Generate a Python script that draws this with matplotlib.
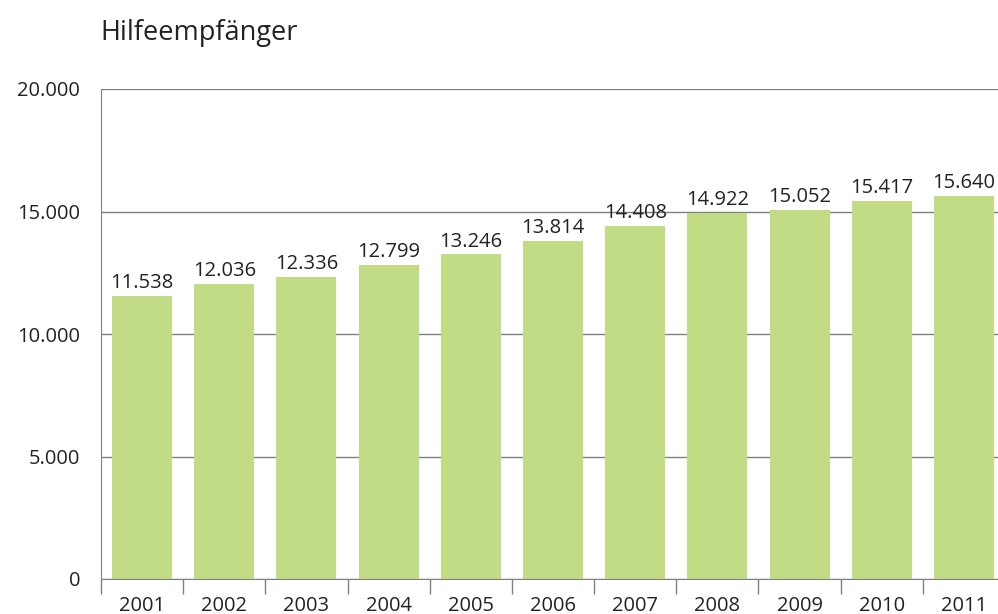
import matplotlib
matplotlib.use("Agg")
import matplotlib.pyplot as plt
import numpy as np

years = ["2001", "2002", "2003", "2004", "2005", "2006", "2007", "2008", "2009", "2010", "2011"]
values = [11538, 12036, 12336, 12799, 13246, 13814, 14408, 14922, 15052, 15417, 15640]
labels = ["11.538", "12.036", "12.336", "12.799", "13.246", "13.814", "14.408", "14.922", "15.052", "15.417", "15.640"]
yticks = [0, 5000, 10000, 15000, 20000]
ytick_labels = ["0", "5.000", "10.000", "15.000", "20.000"]

plt.rcParams['font.family'] = ['Open Sans', 'DejaVu Sans']

fig = plt.figure(figsize=(9.98, 6.14), dpi=100)
ax = fig.add_axes([101/998, 1-579/614, (1005-101)/998, (579-89)/614])

x = np.arange(len(years))
ax.bar(x, values, width=0.73, color="#c1dc84", zorder=2)
for xi, v, lab in zip(x, values, labels):
    ax.text(xi, v + 120, lab, ha="center", va="bottom", fontsize=14.5, color="#222222", zorder=3)

ax.set_xlim(-0.5, len(years) - 0.5)
ax.set_ylim(0, 20000)
ax.set_yticks(yticks)
ax.set_yticklabels(ytick_labels, fontsize=14.5, color="#222222")
ax.tick_params(axis="y", length=0, pad=15)
ax.yaxis.grid(True, color="#808080", linewidth=1, zorder=0)
ax.set_axisbelow(True)

ax.set_xticks(x)
ax.set_xticklabels(years, fontsize=14.5, color="#222222")
ax.set_xticks(np.arange(-0.5, len(years), 1), minor=True)
ax.tick_params(axis="x", which="major", length=0, pad=12)
ax.tick_params(axis="x", which="minor", length=11, color="#808080", width=1)

for s in ["top", "right"]:
    ax.spines[s].set_visible(False)
ax.spines["left"].set_color("#808080")
ax.spines["bottom"].set_color("#808080")

fig.text(100/998, 1-33/614, "Hilfeempfänger", fontsize=19.5, color="#222222", ha="left", va="center")

fig.savefig("out.png", dpi=100)
